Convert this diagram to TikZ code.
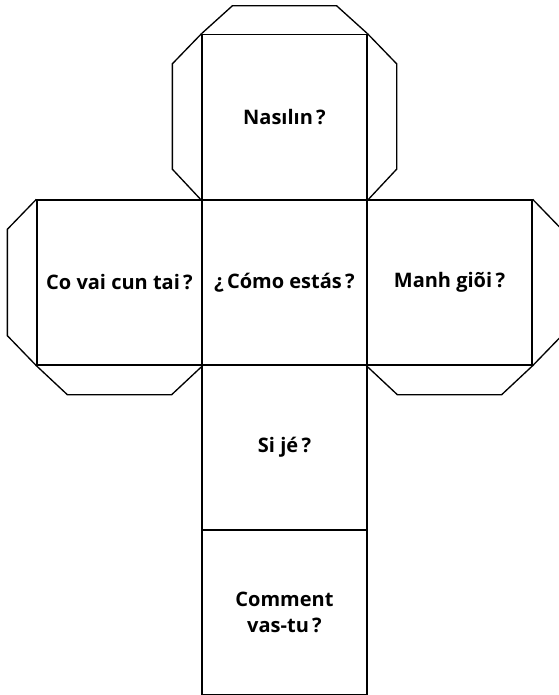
\documentclass[tikz,border=0pt]{standalone}
\usepackage{fontspec}
\setmainfont{Open Sans}
\begin{document}
\begin{tikzpicture}[x=.75pt,y=-.75pt,line width=1pt,
  face/.style={draw,minimum size=123.75pt,inner sep=0pt,align=center,
    font=\bfseries\fontsize{15}{19.5}\selectfont},
  flap/.style={draw,line join=miter}]
\useasboundingbox (0,0) rectangle (559,695);
% faces of the cube
\node[face] (mid) at (284.5,282.5) {¿\,Cómo estás\,?};
\node[face] (top) at (284.5,117) {Nasılın\,?};
\node[face] (left) at (119.5,282.5) {Co vai cun tai\,?};
\node[face] (right) at (449.5,282.5) {Manh giõi\,?};
\node[face] (down) at (284.5,447.5) {Si jé\,?};
\node[face] (last) at (284.5,612) {Comment\\vas-tu\,?};
% glue flaps
\draw[flap] (top.north west) -- ++(31,-28) -- ([shift={(-31,-28)}]top.north east) -- (top.north east);
\draw[flap] (top.north west) -- ++(-29,30) -- ([shift={(-29,-31)}]top.south west) -- (top.south west);
\draw[flap] (top.north east) -- ++(29,30) -- ([shift={(29,-31)}]top.south east) -- (top.south east);
\draw[flap] (left.north west) -- ++(-29,30) -- ([shift={(-29,-30)}]left.south west) -- (left.south west);
\draw[flap] (left.south west) -- ++(31,29) -- ([shift={(-31,29)}]left.south east) -- (left.south east);
\draw[flap] (right.north east) -- ++(31,32) -- ([shift={(31,-32)}]right.south east) -- (right.south east);
\draw[flap] (right.south west) -- ++(31,29) -- ([shift={(-31,29)}]right.south east) -- (right.south east);
\end{tikzpicture}
\end{document}
